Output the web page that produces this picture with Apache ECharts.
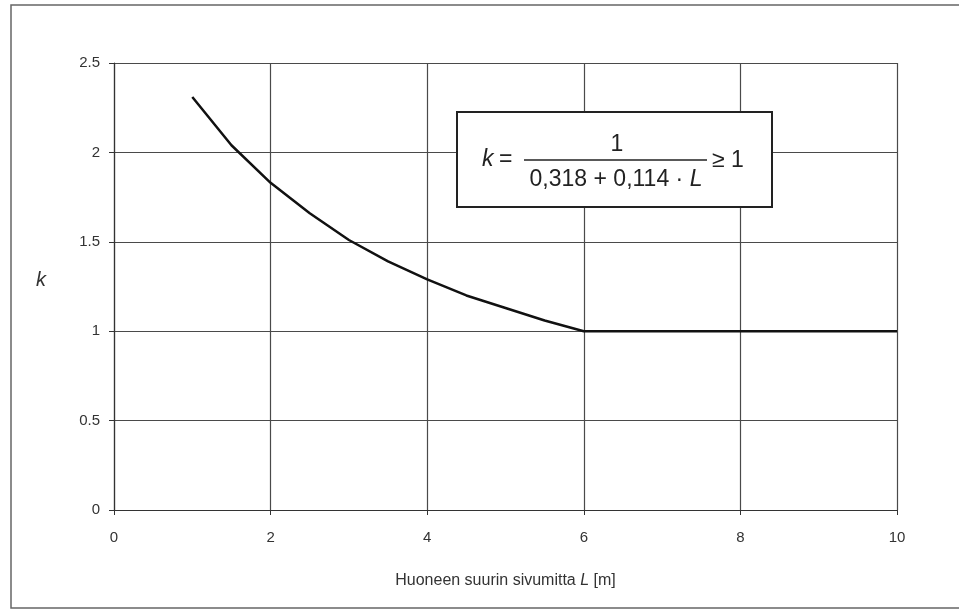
<!DOCTYPE html>
<html>
<head>
<meta charset="utf-8">
<script src="https://cdn.jsdelivr.net/npm/echarts@6/dist/echarts.min.js"></script>
<style>html,body{margin:0;padding:0;background:#fff}#c{width:959px;height:611px}</style>
</head>
<body>
<div id="c"></div>
<script>
const Lvalues = [1, 1.5, 2, 2.5, 3, 3.5, 4, 4.5, 5, 5.5, 6, 8, 10];
const kValues = [2.31, 2.04, 1.83, 1.66, 1.51, 1.39, 1.29, 1.20, 1.13, 1.06, 1.0, 1.0, 1.0];
const xTicks = [0, 2, 4, 6, 8, 10];
const yTicks = [0, 0.5, 1, 1.5, 2, 2.5];

const chart = echarts.init(document.getElementById('c'));
const font = 'Liberation Sans, Arial, sans-serif';
chart.setOption({
  animation: false,
  backgroundColor: '#fff',
  grid: { left: 114, right: 62, top: 63, bottom: 101 },
  xAxis: {
    type: 'value', min: 0, max: 10, interval: 2,
    axisLine: { lineStyle: { color: '#333', width: 1.2 } },
    axisTick: { show: true, length: 5, lineStyle: { color: '#333' } },
    axisLabel: { color: '#333', fontSize: 15, fontFamily: font, margin: 20 },
    splitLine: { show: true, lineStyle: { color: '#4a4a4a', width: 1.2 } },
    name: '{n|Huoneen suurin sivumitta }{i|L}{n| [m]}',
    nameLocation: 'middle', nameGap: 63,
    nameTextStyle: {
      rich: {
        n: { fontSize: 16, color: '#333', fontFamily: font },
        i: { fontSize: 16, color: '#333', fontFamily: font, fontStyle: 'italic' }
      }
    }
  },
  yAxis: {
    type: 'value', min: 0, max: 2.5, interval: 0.5,
    axisLine: { show: true, lineStyle: { color: '#333', width: 1.2 } },
    axisTick: { show: true, length: 5, lineStyle: { color: '#333' } },
    axisLabel: { color: '#333', fontSize: 15, fontFamily: font, margin: 14,
      formatter: v => String(v) },
    splitLine: { show: true, lineStyle: { color: '#4a4a4a', width: 1.2 } }
  },
  series: [{
    type: 'line',
    data: Lvalues.map((x, i) => [x, kValues[i]]),
    symbol: 'none',
    lineStyle: { color: '#111', width: 2.5 },
    smooth: false
  }],
  graphic: [
    { type: 'polyline', shape: { points: [[960, 5], [11, 5], [11, 608], [960, 608]] },
      style: { stroke: '#666', lineWidth: 1.5, fill: null } },
    { type: 'text', left: 36, top: 270,
      style: { text: 'k', font: 'italic 20px ' + font, fill: '#333' } },
    { type: 'rect', shape: { x: 457, y: 112, width: 315, height: 95 },
      style: { fill: '#fff', stroke: '#222', lineWidth: 2 }, z: 10 },
    { type: 'text', z: 11, x: 482, y: 160,
      style: { text: 'k', font: 'italic 23px ' + font, fill: '#222', verticalAlign: 'middle' } },
    { type: 'text', z: 11, x: 499, y: 160,
      style: { text: '=', font: '23px ' + font, fill: '#222', verticalAlign: 'middle' } },
    { type: 'line', z: 11, shape: { x1: 524, y1: 160, x2: 707, y2: 160 },
      style: { stroke: '#222', lineWidth: 1.5 } },
    { type: 'text', z: 11, x: 617, y: 145,
      style: { text: '1', font: '23px ' + font, fill: '#222', align: 'center', verticalAlign: 'middle' } },
    { type: 'text', z: 11, x: 616, y: 180,
      style: { text: '{n|0,318 + 0,114 · }{i|L}', fill: '#222', align: 'center', verticalAlign: 'middle',
        rich: { n: { font: '23px ' + font, fill: '#222' }, i: { font: 'italic 23px ' + font, fill: '#222' } } } },
    { type: 'text', z: 11, x: 712, y: 161,
      style: { text: '≥ 1', font: '23px ' + font, fill: '#222', verticalAlign: 'middle' } }
  ]
});
</script>
</body>
</html>
